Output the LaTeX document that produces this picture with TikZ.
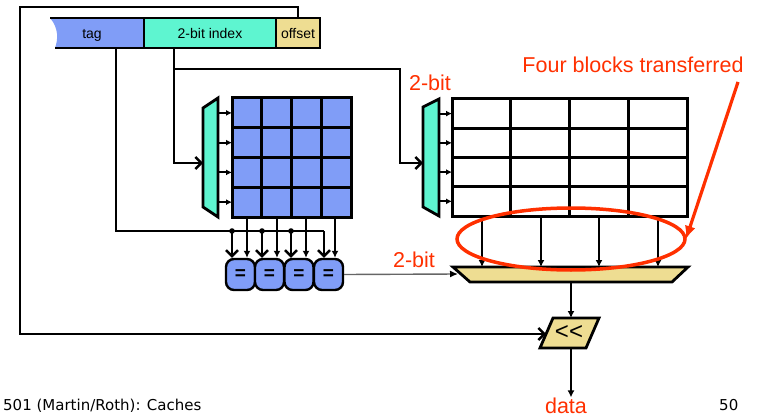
\documentclass[tikz,border=0pt]{standalone}
\usepackage{fontspec}
\setmainfont{Liberation Sans}
\newfontfamily\slidefont{DejaVu Sans}
\usepackage{tikz}
\usetikzlibrary{arrows.meta}
\definecolor{tagblue}{RGB}{128,157,247}
\definecolor{idxgreen}{RGB}{94,245,208}
\definecolor{offtan}{RGB}{238,221,146}
\definecolor{callred}{RGB}{255,48,0}

\begin{document}
\begin{tikzpicture}[x=1pt, y=-1pt,
        wire/.style={line width=2.8pt},
        gridline/.style={line width=3pt},
        vee/.style={-{Straight Barb[length=6pt,width=12pt,line width=2.4pt]}},
        fillhead/.style={-{Latex[length=7pt,width=7pt]}},
        feed/.style={line width=2pt, -{Latex[length=6pt,width=6pt]}},
        field/.style={font=\fontsize{14}{16}\selectfont, inner sep=0pt, anchor=base},
        cmp/.style={draw, line width=2.4pt, fill=tagblue, rounded corners=8pt,
            minimum width=29pt, minimum height=31pt, inner sep=0pt,
            font=\bfseries\fontsize{19}{19}\selectfont},
        redtext/.style={text=callred, font=\fontsize{21.5}{24}\selectfont, inner sep=0pt},
        footer/.style={font=\slidefont\fontsize{15}{18}\selectfont, inner sep=0pt, anchor=base west}]
    \useasboundingbox (0,0) rectangle (762,417);

    % address: tag | index | offset
    \fill[tagblue] (50,18) .. controls (59,28) and (58,40) .. (55,48) -- (144,48) -- (144,18) -- cycle;
    \fill[idxgreen] (144,18) rectangle (276,48);
    \fill[offtan] (276,18) rectangle (320,48);
    \draw[wire] (50,18) -- (320,18) -- (320,48) -- (55,48)
        (144,18) -- (144,48) (276,18) -- (276,48);
    \node[field] (tag) at (92,38.5) {tag};
    \node[field] (index) at (210,38.5) {2-bit index};
    \node[field] (offset) at (298,38.5) {offset};
    \coordinate (tagtap) at (116,48);
    \coordinate (idxtap) at (174,48);
    \coordinate (offtap) at (298,18);
    \coordinate (idxsplit) at (174,69);

    % tag array and its decoder
    \draw[wire, fill=idxgreen] (203,108) -- (218,98) -- (218,217) -- (203,207) -- cycle;
    \coordinate (tagdec) at (203,163);
    \draw[gridline, fill=tagblue] (232,98) rectangle (351,217);
    \foreach \k in {1,2,3} {
        \draw[gridline] (232+29.75*\k,98) -- (232+29.75*\k,217);
        \draw[gridline] (232,98+29.75*\k) -- (351,98+29.75*\k);
    }
    \foreach \r in {0,...,3}
        \draw[feed] (218,112.9+29.75*\r) -- (232,112.9+29.75*\r);

    % data array and its decoder
    \draw[wire, fill=idxgreen] (423,107) -- (439,99) -- (439,216) -- (423,207) -- cycle;
    \coordinate (datadec) at (423,163);
    \draw[gridline] (452,99) rectangle (687,216);
    \foreach \k in {1,2,3} {
        \draw[gridline] (452+58.75*\k,99) -- (452+58.75*\k,216);
        \draw[gridline] (452,99+29.25*\k) -- (687,99+29.25*\k);
    }
    \foreach \r in {0,...,3}
        \draw[feed] (439,113.6+29.25*\r) -- (452,113.6+29.25*\r);

    % index into both decoders
    \draw[wire, vee] (idxtap) |- (tagdec);
    \draw[wire, vee] (idxsplit) -| (400,163) -- (datadec);

    % comparators
    \foreach \i/\cx in {1/240.5,2/269.5,3/299,4/328.5}
        \node[cmp] (eq\i) at (\cx,274.5) {=};
    \draw[wire] (tagtap) |- (324,231);
    \foreach \i/\tx in {1/232,2/262,3/291,4/324}
        \draw[wire, vee] (\tx,231) -- (eq\i.north -| \tx,0);
    \foreach \tx in {232,262,291}
        \fill (\tx,231) circle (2.8);
    \foreach \i/\dx in {1/247,2/277,3/306,4/335}
        \draw[wire, fillhead] (\dx,217) -- (eq\i.north -| \dx,0);

    % block select mux
    \draw[wire, fill=offtan] (453,267) -- (688,267) -- (672,282) -- (470,282) -- cycle;
    \coordinate (selin) at (458,274);
    \coordinate (selout) at (571,282);
    \foreach \dx in {482,541,599,658}
        \draw[wire, fillhead] (\dx,216) -- (\dx,267);
    \draw[gray!80!black, line width=1.4pt, -{Latex[length=8pt,width=7pt,black]}] (eq4.east) -- (selin);

    % shifter
    \draw[wire, fill=offtan] (553,318) -- (599,318) -- (586,348) -- (540,348) -- cycle;
    \node[font=\fontsize{24}{24}\selectfont, inner sep=0pt] (shift) at (569,333) {<{}<};
    \coordinate (shiftin) at (546,334);
    \coordinate (shifttop) at (571,318);
    \coordinate (shiftbot) at (571,348);
    \draw[wire, fillhead] (selout) -- (shifttop);
    \draw[wire, vee] (offtap) -- (298,7) -- (20,7) |- (shiftin);

    % red notes
    \node[redtext] (rowbits) at (430,83) {2-bit};
    \node[redtext] (colbits) at (414,260) {2-bit};
    \node[redtext] (blocks) at (633,64.5) {Four blocks transferred};
    \node[redtext] (data) at (566,405.5) {data};
    \draw[wire, fillhead] (shiftbot) -- (shiftbot |- data.north);
    \draw[callred, line width=3.5pt] (571,239) ellipse [x radius=114, y radius=31];
    \coordinate (callout) at (738,82);
    \draw[callred, line width=3.2pt, -{Latex[length=13pt,width=11pt]}] (callout) -- (686,239);

    % footer
    \node[footer] (course) at (3,410) {501 (Martin/Roth): Caches};
    \node[footer] (page) at (719,410) {50};
\end{tikzpicture}
\end{document}
